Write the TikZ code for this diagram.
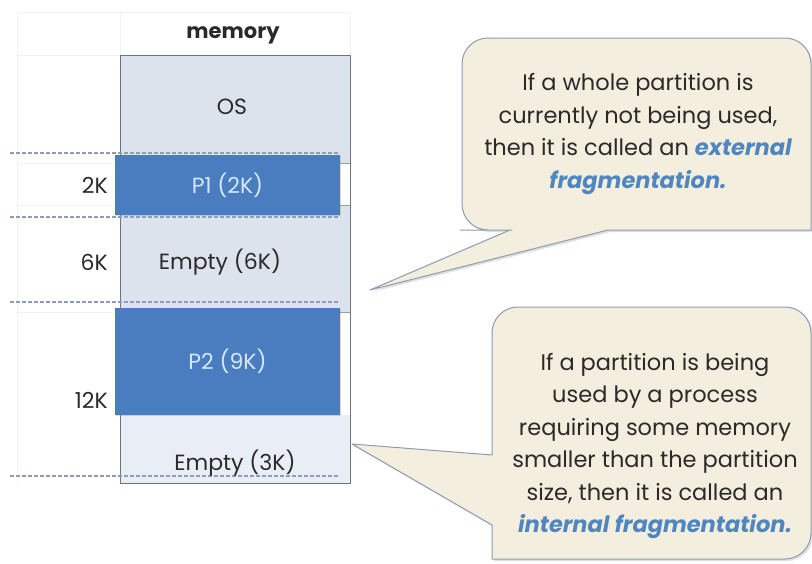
\documentclass[tikz,border=0pt]{standalone}
\usepackage{fontspec}
\setmainfont{Poppins}
\usetikzlibrary{positioning,shadows}

\definecolor{memfill}{HTML}{DDE3EC}
\definecolor{memlight}{HTML}{E9EDF5}
\definecolor{memline}{HTML}{6E747C}
\definecolor{pblue}{HTML}{4A7CC0}
\definecolor{ptext}{HTML}{D6E7F8}
\definecolor{dashcol}{HTML}{8E9DB6}
\definecolor{callfill}{HTML}{F3EEDD}
\definecolor{callline}{HTML}{8C9CB4}
\definecolor{fragblue}{HTML}{4F86C0}
\definecolor{gridcol}{HTML}{F2F2F2}
\definecolor{inkcol}{HTML}{2A2A2A}
\newcommand{\fragtxt}[1]{{\color{fragblue}\bfseries\itshape #1}}

\begin{document}
\begin{tikzpicture}[x=1pt, y=-1pt, line cap=round, line join=round,
    txt/.style={font=\fontsize{22}{24}\selectfont, text=inkcol, inner sep=0pt},
    sizelbl/.style={txt, anchor=east},
    partbox/.style={txt, fill=pblue, text=ptext, minimum width=225pt,
      drop shadow={shadow xshift=1pt, shadow yshift=-1pt, opacity=0.3}},
    cut/.style={draw=dashcol, line width=1.5pt, dash pattern=on 4pt off 2pt, line cap=butt},
    note/.style={align=center, font=\fontsize{22.5}{32.5}\selectfont, text=inkcol},
    callout/.style={fill=callfill, draw=callline, line width=1pt,
      drop shadow={shadow xshift=2pt, shadow yshift=-2pt, opacity=0.25}}]

\useasboundingbox (0,0) rectangle (812,563);

% faint table grid
\draw[gridcol] (17,12) -- (350,12);
\draw[gridcol] (17,55) -- (120,55);
\draw[gridcol] (17,12) -- (17,483);
\draw[gridcol] (120,12) -- (120,55);
\draw[gridcol] (350,12) -- (350,55);
\draw[gridcol] (17,163) -- (115,163);
\draw[gridcol] (17,205) -- (115,205);
\draw[gridcol] (17,312) -- (115,312);

% memory column
\fill[memfill] (120,55) rectangle (350,415);
\fill[memlight] (120,415) rectangle (350,483);
\fill[white] (340,163) rectangle (350,205);
\fill[white] (340,312) rectangle (350,415);
\draw[memline!70] (340,163) -- (350,163) (340,205) -- (350,205) (340,312) -- (350,312);
\draw[memline, line width=1pt] (120,55) rectangle (350,483);

\node[txt, font=\fontsize{21}{24}\selectfont\bfseries] (memhead) at (233,35) {memory};
\node[txt] (os) at (232,107) {OS};

% partition boundaries
\foreach \y in {153,217,302,476}
  \draw[cut] (10,\y) -- (340,\y);

% partitions
\node[partbox, minimum height=60pt] (p1) at (227.5,185) {P1 (2K)};
\node[txt] (empty6) at (220,262) {Empty (6K)};
\node[partbox, minimum height=107pt] (p2) at (227.5,361.5) {P2 (9K)};
\node[txt] (empty3) at (235,463) {Empty (3K)};

% partition sizes
\node[sizelbl] (s2) at (108,185) {2K};
\node[sizelbl] (s6) at (108,262) {6K};
\node[sizelbl] (s12) at (108,400) {12K};

\coordinate (exttip) at (370,290);
\coordinate (inttip) at (352,444);

% external fragmentation callout
\draw[callout] (510,230) -- (exttip) -- (608,230) -- (811,230) [rounded corners=26pt]
  -- (811,38) -- (462,38) -- (462,230) -- (486,230) [sharp corners] -- cycle;
\node[note] (ext) at (638,134) {If a whole partition is\\currently not being used,\\then it is called an \fragtxt{external}\\\fragtxt{fragmentation.}};

% internal fragmentation callout
\draw[callout] (492,455) -- (inttip) -- (492,525) -- (492,559) [rounded corners=26pt]
  -- (811,559) -- (811,307) -- (492,307) -- (492,420) [sharp corners] -- cycle;
\node[note] (int) at (655,446) {If a partition is being\\used by a process\\requiring some memory\\smaller than the partition\\size, then it is called an\\\fragtxt{internal fragmentation.}};

\end{tikzpicture}
\end{document}
